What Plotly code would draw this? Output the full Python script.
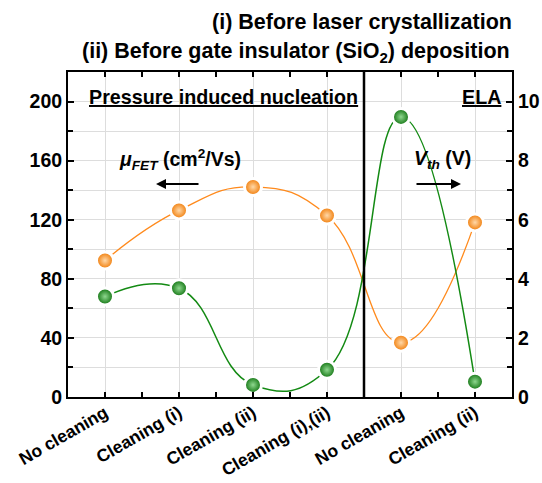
import plotly.graph_objects as go

categories = ["No cleaning", "Cleaning (i)", "Cleaning (ii)", "Cleaning (i),(ii)", "No cleaning", "Cleaning (ii)"]
x_pos = [0, 1, 2, 3, 4, 5]
mu_fet = [92.4, 126.3, 142.2, 122.9, 36.8, 118.2]
v_th = [3.40, 3.68, 0.41, 0.92, 9.48, 0.52]
left_ticks = [0, 40, 80, 120, 160, 200]
right_ticks = [0, 2, 4, 6, 8, 10]

FONT = "Liberation Sans, Arial, sans-serif"
ORANGE = "#FF8A1C"
GREEN = "#138A13"

W, H = 542, 483
L, R, T, B = 68, 30, 72, 86
pw, ph = W - L - R, H - T - B

def px(x):
    return (x - L) / pw

def py(y):
    return (H - B - y) / ph

fig = go.Figure()

fig.add_trace(go.Scatter(
    x=x_pos, y=mu_fet, mode="lines+markers",
    line=dict(color=ORANGE, width=1.3, shape="spline", smoothing=1.3),
    marker=dict(size=17, color="#F07800", line=dict(color="white", width=3),
                gradient=dict(type="radial", color="#FFD8A8")),
    showlegend=False, cliponaxis=True,
))
fig.add_trace(go.Scatter(
    x=x_pos, y=v_th, mode="lines+markers", yaxis="y2",
    line=dict(color=GREEN, width=1.5, shape="spline", smoothing=1.3),
    marker=dict(size=17, color="#0A6E0A", line=dict(color="white", width=3),
                gradient=dict(type="radial", color="#8FD88F")),
    showlegend=False, cliponaxis=True,
))

fig.add_shape(type="line", xref="x", yref="paper", x0=3.5, x1=3.5, y0=0, y1=1,
              line=dict(color="black", width=2.5))

annos = [
    dict(text="<b>(i) Before laser crystallization</b>", x=px(210), y=py(22), size=21.5),
    dict(text="<b>(ii) Before gate insulator (SiO<sub>2</sub>) deposition</b>", x=px(80), y=py(53), size=21.5),
    dict(text="<b><u>Pressure induced nucleation</u></b>", x=px(87), y=py(97), size=19.7),
    dict(text="<b><u>ELA</u></b>", x=px(460), y=py(97), size=19.7),
    dict(text="<b><i>μ</i><sub><i>FET</i></sub> (cm<sup>2</sup>/Vs)</b>", x=px(117), y=py(159), size=19.5),
    dict(text="<b><i>V</i><sub><i>th</i></sub> (V)</b>", x=px(412), y=py(159), size=19.5),
]
for a in annos:
    size = a.pop("size")
    fig.add_annotation(xref="paper", yref="paper", showarrow=False, xanchor="left", yanchor="middle",
                       font=dict(family=FONT, size=size, color="black"), **a)

# arrows
fig.add_annotation(xref="paper", yref="paper", x=px(156), y=py(184), ax=44, ay=0,
                   text="", showarrow=True, arrowhead=2, arrowsize=1, arrowwidth=2, arrowcolor="black")
fig.add_annotation(xref="paper", yref="paper", x=px(461), y=py(184), ax=-46, ay=0,
                   text="", showarrow=True, arrowhead=2, arrowsize=1, arrowwidth=2, arrowcolor="black")

tickfont = dict(family=FONT, size=19.5, color="black")

fig.update_layout(
    width=W, height=H,
    margin=dict(l=L, r=R, t=T, b=B, pad=0, autoexpand=False),
    paper_bgcolor="white", plot_bgcolor="white",
    font=dict(family=FONT, color="black"),
    xaxis=dict(
        range=[-0.5, 5.5], tickmode="array", tickvals=x_pos, automargin=False,
        ticktext=["<b>%s</b>" % c for c in categories],
        tickangle=-30, tickfont=dict(family=FONT, size=17.5, color="black"),
        ticklabelstandoff=-3,
        ticks="inside", ticklen=5, tickwidth=1.5, tickcolor="black",
        showline=True, linecolor="black", linewidth=2, mirror="ticks",
        showgrid=True, gridcolor="#DDDDDD", gridwidth=1, zeroline=False,
        minor=dict(tickmode="linear", tick0=0.5, dtick=1, ticks="inside", ticklen=5,
                   tickcolor="black", tickwidth=1.5, showgrid=False),
    ),
    yaxis=dict(
        range=[0, 220], tickmode="array", tickvals=left_ticks, automargin=False,
        ticktext=["<b>%d</b>" % v for v in left_ticks], tickfont=tickfont,
        ticks="inside", ticklen=6, tickwidth=1.5, tickcolor="black",
        showline=True, linecolor="black", linewidth=2, mirror=False,
        showgrid=True, gridcolor="#DDDDDD", gridwidth=1, zeroline=False,
        minor=dict(tickmode="linear", tick0=20, dtick=40, ticks="inside", ticklen=5,
                   tickcolor="black", tickwidth=1.5, showgrid=True, gridcolor="#DDDDDD"),
    ),
    yaxis2=dict(
        range=[0, 11], overlaying="y", side="right", tickmode="array", tickvals=right_ticks,
        automargin=False,
        ticktext=["<b>%d</b>" % v for v in right_ticks], tickfont=tickfont,
        ticks="inside", ticklen=6, tickwidth=1.5, tickcolor="black",
        showline=True, linecolor="black", linewidth=2,
        showgrid=False, zeroline=False,
        minor=dict(tickmode="linear", tick0=1, dtick=2, ticks="inside", ticklen=5,
                   tickcolor="black", tickwidth=1.5, showgrid=False),
    ),
)

fig.write_html("out.html")
